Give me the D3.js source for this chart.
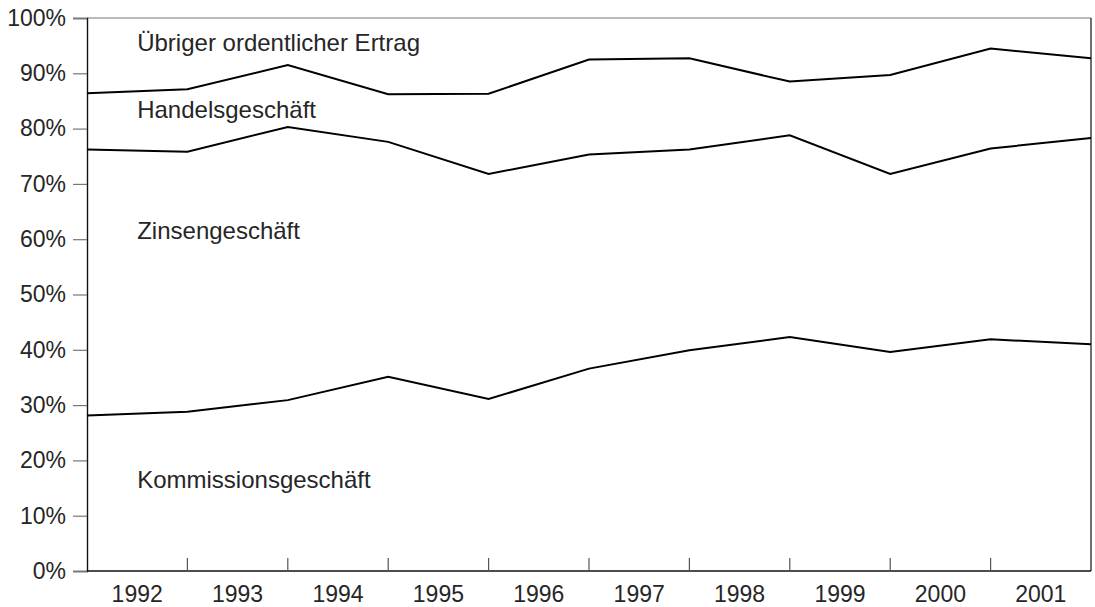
<!DOCTYPE html>
<html>
<head>
<meta charset="utf-8">
<script src="https://cdn.jsdelivr.net/npm/d3@7"></script>
<style>
  html, body { margin: 0; padding: 0; background: #fff; }
  svg text { font-family: "Liberation Sans", Arial, sans-serif; fill: #262626; }
</style>
</head>
<body>
<div id="chart"></div>
<script>
const years = ['1992', '1993', '1994', '1995', '1996', '1997', '1998', '1999', '2000', '2001'];
const yTicks = [0, 10, 20, 30, 40, 50, 60, 70, 80, 90, 100];

// shares in % at the year boundaries (11 points), stacked bottom to top
const kommission = [28.1, 28.8, 30.9, 35.1, 31.1, 36.6, 39.9, 42.3, 39.6, 41.9, 41.0];
const zinsen     = [48.1, 47.0, 49.4, 42.5, 40.7, 38.7, 36.3, 36.5, 32.2, 34.5, 37.3];
const handel     = [10.2, 11.3, 11.2, 8.6, 14.5, 17.2, 16.5, 9.7, 17.9, 18.1, 14.4];
const uebriger   = [13.6, 12.9, 8.5, 13.8, 13.7, 7.5, 7.3, 11.5, 10.3, 5.5, 7.3];

const seriesNames = ['Kommissionsgeschäft', 'Zinsengeschäft', 'Handelsgeschäft', 'Übriger ordentlicher Ertrag'];
const labelLevels = [15, 60, 82, 94]; // where each name sits (baseline, in %)

const W = 1095, H = 607;
const margin = { top: 18, right: 4, bottom: 36, left: 87 };
const width = W - margin.left - margin.right;
const height = H - margin.top - margin.bottom;

const rows = kommission.map((_, i) => ({
  i,
  kommission: kommission[i],
  zinsen: zinsen[i],
  handel: handel[i],
  uebriger: uebriger[i]
}));
const stacked = d3.stack().keys(['kommission', 'zinsen', 'handel', 'uebriger'])(rows);

const svg = d3.select('#chart').append('svg')
  .attr('width', W)
  .attr('height', H);
const g = svg.append('g').attr('transform', `translate(${margin.left},${margin.top})`);

const x = d3.scaleLinear().domain([0, rows.length - 1]).range([0, width]);
const xBand = d3.scaleBand().domain(years).range([0, width]);
const y = d3.scaleLinear().domain([0, 100]).range([height, 0]);

// frame
g.append('line').attr('x1', 0).attr('x2', width).attr('y1', 0).attr('y2', 0)
  .attr('stroke', '#777').attr('stroke-width', 1.2);
g.append('line').attr('x1', width).attr('x2', width).attr('y1', 0).attr('y2', height)
  .attr('stroke', '#111').attr('stroke-width', 1.2);

// Y axis
const yAxis = g.append('g')
  .call(d3.axisLeft(y).tickValues(yTicks).tickSize(14).tickPadding(7).tickFormat(d => d + '%'));
yAxis.select('.domain').attr('stroke', '#111').attr('stroke-width', 1.4);
yAxis.selectAll('.tick line').attr('stroke', '#777').attr('stroke-width', 1.2);
yAxis.selectAll('.tick text')
  .style('font-size', '23px').attr('fill', '#262626');

// X axis: ticks between the years, labels in the middle
const xAxis = g.append('g').attr('transform', `translate(0,${height})`);
xAxis.append('line').attr('x1', 0).attr('x2', width)
  .attr('stroke', '#111').attr('stroke-width', 1.4);
xAxis.selectAll('line.sep')
  .data(years.slice(1))
  .enter().append('line')
  .attr('class', 'sep')
  .attr('x1', d => xBand(d)).attr('x2', d => xBand(d))
  .attr('y1', 0).attr('y2', -13)
  .attr('stroke', '#555').attr('stroke-width', 1.2);
xAxis.selectAll('text')
  .data(years)
  .enter().append('text')
  .attr('x', d => xBand(d) + xBand.bandwidth() / 2)
  .attr('y', 31)
  .attr('text-anchor', 'middle')
  .style('font-size', '23px')
  .text(d => d);

// boundary lines
const line = d3.line().x(d => x(d.data.i)).y(d => y(d[1]));
g.selectAll('path.boundary')
  .data(stacked.slice(0, 3))
  .enter().append('path')
  .attr('class', 'boundary')
  .attr('fill', 'none')
  .attr('stroke', '#000')
  .attr('stroke-width', 2)
  .attr('stroke-linejoin', 'miter')
  .attr('d', line);

// series names
g.selectAll('text.name')
  .data(seriesNames)
  .enter().append('text')
  .attr('class', 'name')
  .attr('x', xBand(years[0]) + xBand.bandwidth() / 2)
  .attr('y', (d, i) => y(labelLevels[i]))
  .style('font-size', '24px')
  .text(d => d);
</script>
</body>
</html>
